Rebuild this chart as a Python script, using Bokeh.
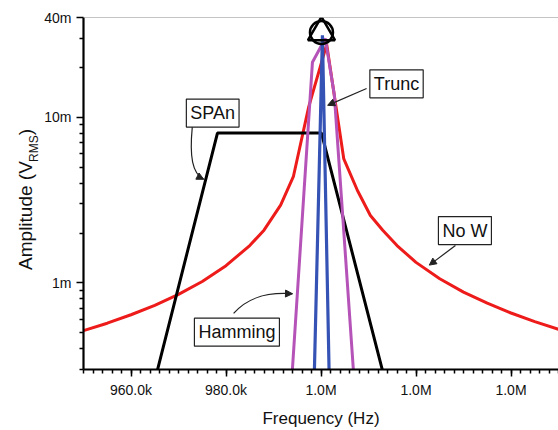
from bokeh.plotting import figure
from bokeh.layouts import row
from bokeh.models import FixedTicker, Label, Arrow, NormalHead, Span
from bokeh.embed import file_html
from bokeh.resources import INLINE

# Frequency in kHz, amplitude in mV RMS
nw_freq = [950, 955, 960, 965, 970, 975, 980, 985, 988, 991.5, 994.2, 997.4, 1001.2,
           1004.8, 1007.7, 1010.4, 1013, 1016, 1020, 1025, 1030, 1035, 1040, 1045, 1050]
nw_amp = [0.515, 0.571, 0.642, 0.732, 0.852, 1.02, 1.27, 1.68, 2.08, 2.95, 4.4, 11.5, 27.5,
          5.6, 3.6, 2.55, 2.08, 1.68, 1.33, 1.06, 0.88, 0.754, 0.658, 0.584, 0.525]

span_freq = [964.9, 978.2, 1000.1, 1013.6]
span_amp = [0.25, 8.03, 8.03, 0.25]

ham_freq = [993.8, 998.2, 1000.9, 1002.8, 1007.0]
ham_amp = [0.25, 21.5, 29.9, 13.7, 0.25]

trunc_freq = [998.55, 1000.3, 1001.75]
trunc_amp = [0.25, 31.2, 0.25]

peak_freq = [1000.1]
peak_amp = [32.5]

x_ticks = [960, 980, 1000, 1020, 1040]
x_tick_labels = ["960.0k", "980.0k", "1.0M", "1.0M", "1.0M"]
y_ticks = [1, 10, 40]
y_tick_labels = ["1m", "10m", "40m"]

FONT = "Liberation Sans"
INK = "#111111"

p = figure(width=518, height=430, x_range=(950, 1050), y_range=(0.3, 40),
           y_axis_type="log", output_backend="svg", toolbar_location=None,
           min_border_left=43, min_border_right=0, min_border_top=17, min_border_bottom=56)
p.outline_line_color = None
p.xgrid.visible = False
p.ygrid.visible = False
p.add_layout(Span(location=40, dimension="width", line_color="#8a8a8a", line_width=1.2))

x_minor = list(range(950, 1051, 2))
y_minor = [0.3, 0.4, 0.5, 0.6, 0.7, 0.8, 0.9, 2, 3, 4, 5, 6, 7, 8, 9, 20, 30]
p.xaxis.ticker = FixedTicker(ticks=x_ticks, minor_ticks=x_minor)
p.yaxis.ticker = FixedTicker(ticks=y_ticks, minor_ticks=y_minor)
p.xaxis.major_label_overrides = dict(zip(x_ticks, x_tick_labels))
p.yaxis.major_label_overrides = dict(zip(y_ticks, y_tick_labels))

for ax in (p.xaxis[0], p.yaxis[0]):
    ax.axis_line_width = 2.2
    ax.axis_line_color = "black"
    ax.major_tick_out = 7
    ax.major_tick_in = 0
    ax.minor_tick_out = 4
    ax.minor_tick_in = 0
    ax.major_tick_line_width = 1.5
    ax.minor_tick_line_width = 1.5
    ax.major_tick_line_color = "black"
    ax.minor_tick_line_color = "black"
    ax.major_label_text_font = FONT
    ax.major_label_text_font_size = "14px"
    ax.major_label_text_color = INK
    ax.major_label_standoff = 5

p.xaxis.axis_label = "Frequency (Hz)"
p.xaxis.axis_label_text_font = FONT
p.xaxis.axis_label_text_font_size = "17px"
p.xaxis.axis_label_text_font_style = "normal"
p.xaxis.axis_label_text_color = INK
p.xaxis.axis_label_standoff = 8

# spectra
p.line(nw_freq, nw_amp, line_color="#ee1b1b", line_width=3)
p.line(span_freq, span_amp, line_color="black", line_width=3)
p.line(ham_freq, ham_amp, line_color="#b553b8", line_width=3)
p.line(trunc_freq, trunc_amp, line_color="#3552b5", line_width=3.2)

# expected peak markers
p.scatter(peak_freq, peak_amp, marker="circle", size=23, fill_color=None,
          line_color="black", line_width=2.5)
p.scatter(peak_freq, peak_amp, marker="triangle", size=27, fill_color=None,
          line_color="black", line_width=2.5)

# boxed series labels
boxes = [("SPAn", 977.2, 10.6), ("Trunc", 1015.9, 15.9),
         ("No W", 1030.3, 2.07), ("Hamming", 982.3, 0.504)]
for txt, fx, fy in boxes:
    p.add_layout(Label(x=fx, y=fy, text=txt, text_align="center", text_baseline="middle",
                       text_font=FONT, text_font_size="18px", text_color=INK,
                       background_fill_color="white", border_line_color="#222222",
                       border_line_width=1.2, padding=4))

# straight pointers
for x0, y0, x1, y1 in [(1009.6, 14.9, 1001.4, 11.8), (1028.3, 1.68, 1022.8, 1.28)]:
    p.add_layout(Arrow(x_start=x0, y_start=y0, x_end=x1, y_end=y1, line_width=1.2,
                       line_color="#222222",
                       end=NormalHead(size=7, fill_color="#222222", line_color="#222222")))

# curved pointers
p.bezier(x0=[972.9, 981.6], y0=[8.72, 0.654], x1=[975.3, 994.0], y1=[4.22, 0.860],
         cx0=[972.3, 984.1], cy0=[5.78, 0.792], cx1=[972.9, 987.7], cy1=[4.58, 0.884],
         line_color="#222222", line_width=1.2)
for x0, y0, x1, y1 in [(974.4, 4.35, 975.3, 4.22), (992.5, 0.862, 994.0, 0.860)]:
    p.add_layout(Arrow(x_start=x0, y_start=y0, x_end=x1, y_end=y1, line_width=1.2,
                       line_color="#222222",
                       end=NormalHead(size=7, fill_color="#222222", line_color="#222222")))

# narrow strip holding the rotated y-axis title; its frame lines up with the
# main frame, and its range counts pixels up from the bottom of the page
t = figure(width=40, height=430, x_range=(0, 40), y_range=(56, 413),
           output_backend="svg", toolbar_location=None,
           x_axis_location=None, y_axis_location=None,
           min_border_left=0, min_border_right=0, min_border_top=17, min_border_bottom=56)
t.outline_line_color = None
t.xgrid.visible = False
t.ygrid.visible = False
title_bits = [("Amplitude (V", 25, 157, "19px"),
              ("RMS", 33, 266.5, "12px"),
              (")", 25, 293.5, "19px")]
for txt, tx, ty, fs in title_bits:
    t.add_layout(Label(x=tx, y=ty, text=txt, angle=90, angle_units="deg",
                       text_align="left", text_baseline="middle", text_font=FONT,
                       text_font_size=fs, text_color=INK))

layout = row(t, p, spacing=0)
open("out.html", "w").write(file_html(layout, INLINE))
